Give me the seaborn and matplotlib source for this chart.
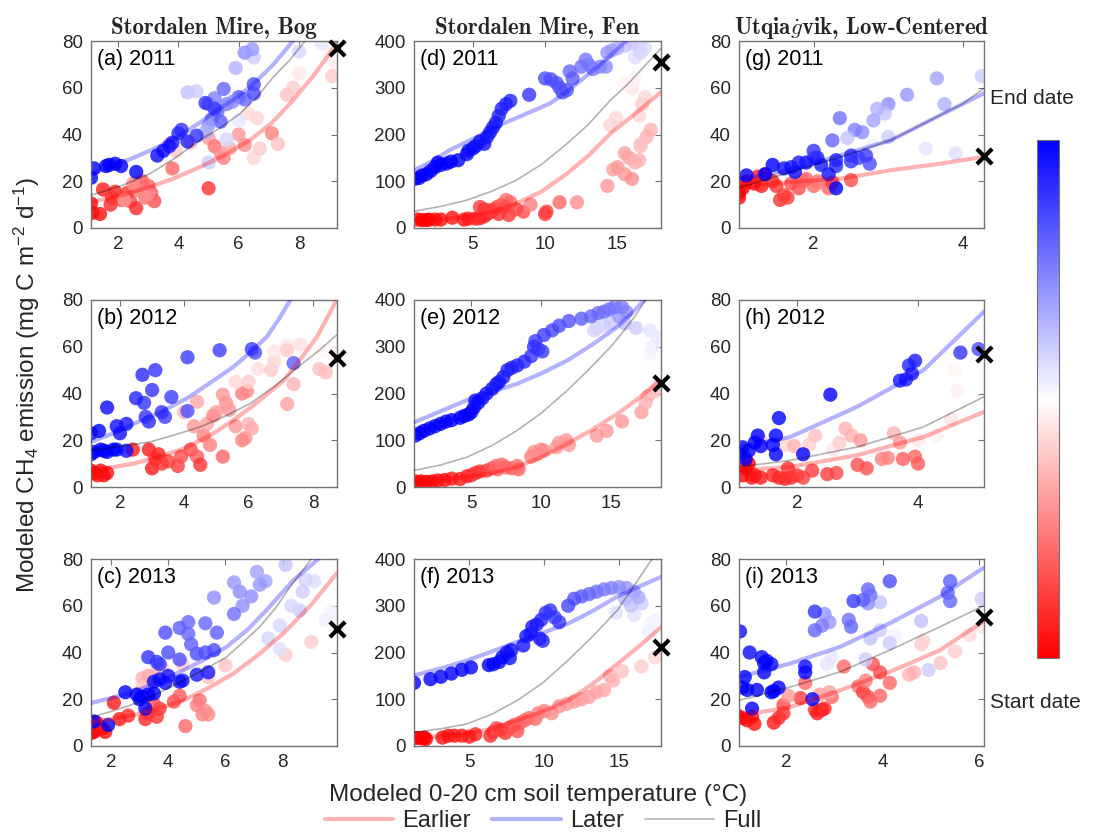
import matplotlib
matplotlib.use('Agg')
import matplotlib.pyplot as plt
import seaborn as sns
import pandas as pd
from matplotlib.colors import LinearSegmentedColormap, Normalize
from matplotlib.cm import ScalarMappable
from matplotlib.lines import Line2D

# ---- data: (soil temp, CH4 flux, date fraction 0=start 1=end)
bog2011 = [(1.1,10.5,.02),(1.15,6.5,0),(1.4,6,.03),(1.5,16.5,.05),(1.75,10,.08),(1.9,15.5,.06),(1.8,13,.1),(2.1,12,.12),
           (2.3,15,.1),(2.4,11.5,.14),(2.6,8.5,.08),(2.6,18,.15),(2.8,20,.18),(3.0,18,.2),(3.1,15,.18),(3.2,11.5,.15),
           (2.9,13,.22),(2.7,16,.25),(3.0,14.5,.28),(2.5,19,.28),(2.2,12,.3),(5.0,17,.1),(3.7,36,.35),(3.9,33,.4),
           (3.8,25.5,.2),(4.4,36.5,.35),(5.0,38.5,.3),(5.2,35,.22),(5.5,30,.25),(5.4,32,.28),(5.7,34,.33),(6.0,40,.3),
           (6.2,35.5,.28),(6.5,30,.42),(6.7,34,.4),(7.1,40.5,.25),(7.3,36,.38),(6.3,49,.43),(6.6,47,.42),(7.6,57,.38),
           (7.8,60,.4),(8.0,66,.45),(9.1,65,.4),(9.2,71,.46),(9.0,74,.48),
           (8.75,79,.55),(8.0,75.5,.58),(6.5,73,.6),(6.2,75,.72),(6.45,76.5,.7),(5.9,68.5,.65),(4.3,58,.62),(4.6,58.5,.6),
           (5.0,53,.78),(5.2,55.5,.75),(5.5,59.5,.8),(5.3,50,.8),(5.1,46.5,.78),(5.4,45.5,.82),(5.0,44,.7),(4.9,41,.66),
           (6.0,56,.82),(6.2,55,.8),(6.5,61.5,.85),(6.5,57.5,.85),(5.6,53,.75),(5.8,54,.72),(4.9,53.5,.9),(5.2,51,.88),
           (4.1,42,.9),(4.0,40.5,.92),(4.3,37,.94),(4.6,39.5,.9),(3.8,36.5,.95),(3.7,35,.96),(3.5,33,.97),(3.3,31,.98),
           (2.6,24,1),(2.1,26.5,1),(1.9,27.5,1),(1.7,27,1),(1.6,26.5,1),(1.2,25.5,1),(1.1,21.5,1),(5.0,28,.6),
           (5.6,38,.58),(6.0,46,.55)]
bog2012 = [(1.1,7,0),(1.2,6,0),(1.3,5,.02),(1.4,7,.02),(1.5,5,.03),(1.6,6,.03),(2.4,16,.05),(2.9,16,.05),(3.0,8,.05),
           (3.1,12,.08),(3.2,14,.07),(3.3,10,.1),(3.5,11,.12),(3.8,9,.12),(3.9,13,.15),(4.2,16,.15),(4.4,13,.18),
           (4.5,9.5,.1),(5.2,13,.2),(4.3,26,.3),(4.6,22,.25),(4.7,27,.32),(4.8,18,.25),(4.9,30.5,.25),(5.0,32,.3),
           (5.3,36,.28),(5.4,33,.3),(5.2,39.5,.3),(4.0,32,.35),(4.4,36.5,.33),(5.6,26,.3),(5.8,20,.25),(5.9,21,.28),
           (5.8,40,.25),(5.95,41,.27),(6.0,27,.35),(6.1,25,.33),(5.6,45,.42),(6.0,45,.4),(6.3,50.5,.44),(6.7,50,.4),
           (6.8,53.5,.42),(6.8,58,.45),(7.2,60.5,.45),(7.6,61,.44),(7.2,35.5,.32),(7.4,44,.35),(8.2,50.5,.38),
           (8.4,49,.37),(8.3,58,.48),(8.6,59,.49),(7.2,58.5,.4),
           (7.4,53,.82),(6.2,57.5,.85),(6.1,59,.88),(5.1,58.5,.88),(4.1,32.5,.85),(4.1,55.5,.88),(3.6,38.5,.88),
           (3.4,30,.88),(3.3,32,.9),(3.1,50,.9),(3.0,41.5,.9),(2.9,28,.92),(2.8,30,.9),(2.75,36,.9),(2.7,48,.92),
           (2.5,38,.93),(2.2,27,.96),(2.0,23,.97),(1.9,26,.97),(1.6,34,.98),(1.35,24,1),(1.1,23,1),
           (2.2,15.5,.98),(1.9,16,.98),(1.8,16,1),(1.6,15,1),(1.5,15.5,1),(1.4,16,1),(1.2,15,1),(1.1,14,1)]
bog2013 = [(1.3,5.5,0),(1.4,6,0),(1.5,7,.02),(1.6,8,.02),(1.7,7.5,.03),(1.8,6,.03),(1.5,10,.05),(2.1,18.5,.05),
           (2.3,11.5,.05),(2.6,13,.08),(3.2,11.5,.08),(3.3,14,.1),(3.6,12.5,.1),(3.7,16,.12),(3.5,18,.15),(4.2,19,.15),
           (4.4,21.5,.18),(4.6,8.5,.2),(5.1,19.5,.22),(5.0,17.5,.25),(5.2,13.5,.25),(5.4,13.5,.27),(5.3,15,.28),
           (3.1,29,.35),(3.3,30,.33),(3.6,31.5,.35),(3.1,25,.38),(3.8,33,.4),(4.5,35,.4),(6.0,34.5,.38),(8.1,39,.4),
           (9.0,44.5,.4),(5.4,29.5,.38),
           (9.7,57.5,.52),(9.5,54,.53),(9.1,70.5,.57),(8.8,71,.58),(8.7,66,.6),(8.6,58,.6),(8.3,60,.58),(8.1,77.5,.62),
           (7.9,51.5,.58),(7.9,41.5,.56),(7.5,46,.58),(7.4,70.5,.68),(7.2,69,.7),(7.1,74.5,.68),(6.9,64,.72),
           (6.6,60,.72),(6.5,66,.72),(6.3,70,.7),(6.3,56.5,.78),(5.6,63.5,.72),(5.7,48.5,.82),(5.6,41,.85),
           (5.3,52.5,.8),(5.3,40,.85),(5.0,39.5,.85),(4.8,43.5,.82),(4.7,53,.8),(4.7,48,.8),(4.4,50.5,.82),
           (4.4,37,.85),(4.0,40,.85),(3.9,48.5,.85),(3.7,35,.9),(3.6,36,.88),(3.3,38,.9),(5.4,31.5,.95),(5.0,30.5,.95),
           (4.5,28,.96),(4.4,27.5,.97),(4.0,30,.97),(3.9,27,.97),(3.7,28.5,.98),(3.5,27.5,.98),(3.2,16,1),
           (3.5,22.5,1),(3.3,22,1),(3.1,21,1),(3.0,20,1),(2.9,22,1),(2.5,23,1),(1.9,9,1),(1.4,10.5,1)]
fen2011 = [(1.2,18,0),(1.5,17,0),(1.8,17,0),(2.0,18,0),(2.4,18,.02),(2.8,18,.02),(3.6,22,.03),(4.4,18,.04),(4.7,20,.05),
           (5.2,20,.06),(5.5,21,.07),(5.8,25,.08),(6.0,30,.08),(6.3,35,.1),(6.5,40,.12),(6.7,45,.14),(7.0,50,.18),
           (7.3,60,.22),(7.6,55,.2),(7.2,45,.15),(5.5,45,.12),(5.8,40,.1),(6.2,38,.12),(6.8,30,.1),(7.5,28,.1),
           (8.0,40,.15),(8.5,35,.15),(9.0,50,.25),(10.0,30,.1),(10.1,35,.12),(11.0,55,.2),(12.2,55,.28),(14.3,90,.3),
           (14.7,125,.32),(15.0,130,.3),(15.5,115,.3),(16.0,105,.28),(15.5,160,.32),(15.8,150,.32),(16.2,140,.34),
           (16.5,145,.35),(16.6,175,.36),(17.0,195,.35),(17.3,210,.35),(16.6,180,.38),(14.5,220,.42),(14.9,235,.42),
           (16.5,240,.42),(16.7,265,.4),(16.9,280,.42),(16.0,300,.45),(16.2,320,.47),(16.5,340,.49),(15.5,310,.48),
           (16.2,365,.56),(16.6,375,.58),(16.9,385,.57),(16.5,390,.58),(16.0,395,.6),(15.5,390,.62),(15.0,385,.65),
           (14.6,380,.68),(14.3,375,.7),(14.2,345,.72),(13.8,345,.74),(13.3,340,.75),(13.0,350,.76),(12.8,360,.76),
           (12.5,345,.78),(11.7,335,.8),(11.9,320,.82),(11.5,295,.83),(11.2,290,.83),(11.0,300,.84),(10.8,310,.84),
           (10.4,318,.85),(10.0,320,.85),(8.9,285,.9),(7.6,272,.93),(7.3,265,.93),(7.0,255,.94),(6.8,240,.94),
           (6.6,225,.95),(6.4,215,.95),(6.2,205,.96),(6.0,195,.96),(5.8,180,.97),(5.5,185,.97),(5.2,175,.97),
           (5.0,170,.98),(4.7,165,.98),(4.6,158,.98),(4.0,145,1),(3.5,142,1),(3.2,138,1),(2.8,135,1),(2.6,140,1),
           (2.4,130,1),(2.1,122,1),(1.8,115,1),(1.5,112,1),(1.3,107,1),(1.0,105,1)]
fen2012 = [(1.0,12,0),(1.4,12,0),(1.8,11,0),(2.2,12,.01),(2.6,14,.02),(3.1,15,.03),(3.6,18,.04),(4.2,17,.05),
           (4.7,23,.07),(5.0,25,.08),(5.3,30,.1),(5.6,33,.1),(6.1,35,.12),(6.5,40,.15),(6.8,45,.2),(6.9,38,.18),
           (7.2,48,.22),(7.5,42,.2),(7.9,40,.2),(8.3,45,.22),(8.4,38,.2),(9.3,65,.25),(9.5,75,.28),(9.7,70,.27),
           (10.0,80,.28),(10.2,78,.27),(11.1,85,.3),(11.3,95,.3),(11.8,100,.3),(12.0,90,.3),(14.0,110,.3),
           (14.7,120,.3),(15.8,140,.3),(17.2,160,.32),(17.5,180,.35),(17.7,195,.35),(18.2,205,.38),(18.4,215,.4),
           (17.6,265,.5),(17.8,285,.52),(18.0,300,.53),(18.3,320,.54),(17.8,335,.55),(13.8,335,.58),(14.0,340,.58),
           (14.5,345,.58),(15.0,350,.6),(16.8,340,.6),(16.0,350,.62),(15.6,365,.7),(16.1,375,.72),(15.8,385,.75),
           (15.3,385,.76),(14.9,380,.77),(14.5,375,.78),(14.1,372,.78),(13.6,365,.8),(12.9,360,.82),(12.0,355,.84),
           (11.3,345,.85),(10.8,335,.86),(10.2,325,.88),(9.6,312,.88),(10.1,290,.88),(9.8,295,.89),(9.5,300,.9),
           (9.3,280,.9),(8.8,268,.92),(8.3,260,.93),(7.9,255,.94),(7.6,250,.94),(7.3,235,.95),(7.0,225,.95),
           (6.8,220,.96),(6.5,210,.96),(6.1,200,.97),(5.8,190,.97),(5.5,180,.98),(5.3,185,.98),(5.2,170,.98),
           (5.0,160,.99),(4.8,155,.99),(4.5,152,1),(4.2,148,1),(3.6,143,1),(3.2,140,1),(2.8,135,1),(2.4,130,1),
           (2.0,125,1),(1.6,120,1),(1.3,115,1),(1.0,110,1)]
fen2013 = [(1.3,17,0),(1.6,17,0),(1.9,16,0),(2.1,15,0),(2.0,18,0),(3.2,18,.02),(3.6,22,.03),(4.0,22,.04),(4.5,22,.05),
           (5.0,20,.05),(5.4,25,.06),(6.4,22,.08),(6.6,30,.1),(6.8,38,.15),(7.1,35,.12),(7.4,28,.1),(7.7,40,.15),
           (8.0,45,.18),(8.4,50,.2),(8.2,32,.15),(8.7,55,.2),(9.0,60,.22),(9.4,58,.22),(9.6,70,.25),(10.0,75,.25),
           (10.5,70,.27),(11.0,85,.28),(11.5,90,.3),(12.0,95,.3),(12.5,100,.3),(13.0,105,.32),(13.5,115,.32),
           (14.0,120,.33),(14.4,150,.35),(14.6,140,.35),(15.2,160,.38),(16.5,170,.4),(17.4,190,.42),
           (17.5,270,.52),(17.0,245,.53),(17.2,265,.52),(16.0,280,.56),(14.8,285,.56),(16.5,305,.6),(15.8,300,.62),
           (15.4,315,.64),(16.3,318,.66),(16.0,330,.68),(15.5,338,.7),(15.0,340,.72),(14.5,338,.74),(14.0,335,.76),
           (13.5,330,.78),(13.0,325,.8),(12.5,320,.82),(12.0,315,.84),(11.6,300,.86),(11.0,265,.88),(10.7,275,.88),
           (10.4,290,.9),(10.1,285,.9),(9.8,270,.92),(9.9,225,.93),(9.7,230,.93),(9.5,260,.94),(9.2,255,.95),
           (9.1,240,.95),(8.8,235,.96),(8.6,215,.96),(7.7,188,.97),(7.8,205,.97),(7.5,200,.98),(7.2,190,.98),
           (7.0,180,.99),(6.6,175,.99),(6.3,173,1),(5.1,168,1),(4.5,163,1),(3.8,155,1),(3.1,148,1),(2.4,143,1),
           (1.3,135,1)]
utq2011 = [(1.0,15,0),(1.0,13,0),(1.05,17,0),(1.1,20,.02),(1.2,19,.03),(1.3,18,.04),(1.25,22,.05),(1.35,23,.05),
           (1.45,20,.08),(1.5,18,.1),(1.55,12,.1),(1.6,14,.12),(1.65,13,.12),(1.7,19,.15),(1.8,17,.15),(1.85,20,.18),
           (1.9,21,.2),(2.0,18,.2),(2.05,20,.22),(2.2,17,.2),(2.1,19.5,.25),(2.25,19.5,.1),(2.5,20.5,.15),
           (2.7,32,.5),(2.8,35,.52),(3.5,34,.55),(3.9,32,.56),(4.25,65,.6),(3.75,53,.65),(3.65,64,.68),
           (3.25,57,.7),(3.0,53,.72),(3.0,39,.6),(2.95,49,.62),(2.85,51,.65),(2.8,46,.68),(2.65,41,.72),(2.55,42,.75),
           (2.45,38.5,.62),(2.35,47,.78),(2.25,37.5,.8),(2.0,30,.85),(2.75,27.5,.85),(2.7,31,.88),(2.6,30,.88),
           (2.5,28.5,.9),(2.5,31,.9),(2.3,26.5,.92),(2.3,29,.93),(2.3,17,1),(2.2,23,.97),(2.1,27,.95),(2.05,30,.95),
           (2.0,33,.9),(1.9,28,.97),(1.8,28,.95),(1.75,24,.98),(1.7,26,.96),(1.6,25.5,.97),(1.45,27,1),(1.35,23,1),
           (1.1,22.5,1)]
utq2012 = [(1.1,5,0),(1.15,8,0),(1.2,10,0),(1.25,4,.02),(1.3,5,.03),(1.4,4,.05),(1.6,5,.06),(1.7,4,.07),(1.8,3.5,.08),
           (1.9,4,.08),(1.85,8,.1),(2.0,5,.1),(2.1,4,.12),(2.25,7,.12),(2.5,5.5,.12),(2.65,6,.14),(3.0,9.5,.15),
           (3.15,8,.15),(3.4,12,.25),(3.5,12.5,.25),(3.75,12,.18),(3.95,13,.2),(4.0,10,.18),(1.4,20,.4),
           (1.8,18,.42),(1.95,17.5,.35),(2.2,18,.4),(2.3,22,.38),(2.6,16,.45),(2.7,19,.4),(2.8,25,.35),(2.9,22,.35),
           (3.05,20,.3),(3.6,23,.35),(3.7,19,.3),(4.0,20,.45),(4.3,22,.47),(4.55,29,.45),(4.6,50,.48),(4.65,41,.47),
           (5.0,59,.85),(4.7,57.5,.9),(3.95,54,.95),(3.85,52,.93),(3.9,48.5,.95),(3.8,46,.95),(3.7,45.5,.96),
           (2.55,39.5,1),(2.1,14,1),(1.7,29.5,1),(1.65,22,1),(1.65,14,1),(1.6,18,1),(1.4,17.5,1),(1.35,22,1),
           (1.3,19,1),(1.2,15.5,1),(1.15,12,1),(1.1,17,1),(1.05,14,1)]
utq2013 = [(1.0,13,0),(1.1,12,0),(1.2,11,.02),(1.3,12.5,.03),(1.35,9.5,.03),(1.75,10,.05),(1.85,12,.08),
           (1.95,14,.1),(1.95,17.5,.15),(2.3,20.5,.12),(2.4,27,.2),(2.6,15.5,.1),(2.65,14,.05),(2.75,15.5,.05),
           (2.8,16,.08),(2.95,21,.2),(3.2,34,.2),(3.5,25.5,.22),(3.6,23,.12),(3.65,28,.25),(3.7,21,.15),(3.75,19,.2),
           (3.8,35,.15),(3.95,21.5,.2),(3.95,31.5,.15),(4.15,27,.2),(2.05,21.5,.3),(2.7,22,.3),(2.9,23,.32),
           (4.55,30.5,.35),(4.65,31.5,.35),(4.8,43.5,.4),(4.85,45,.42),(5.2,35.5,.38),(5.5,40.5,.4),(5.8,47.5,.43),
           (6.05,51,.45),
           (6.05,63,.6),(4.25,47,.52),(4.95,32.5,.6),(4.8,53.5,.62),(4.15,44,.6),(3.95,61.5,.62),(3.95,49.5,.6),
           (3.75,46,.62),(3.65,37,.6),(2.95,38,.55),(2.85,35,.55),(5.35,65.5,.8),(5.4,62,.8),(5.4,70.5,.82),
           (4.15,70.5,.85),(3.7,67,.8),(3.75,64.5,.78),(3.7,61,.72),(3.6,62.5,.82),(3.4,62,.88),(3.3,54,.78),
           (3.35,51,.8),(2.9,53,.7),(2.8,56.5,.7),(2.75,51.5,.75),(2.6,49.5,.8),(2.6,57.5,.9),(2.55,20,1),
           (2.4,31.5,1),(2.4,34,.98),(1.85,25,1),(1.75,23.5,1),(1.7,23,1),(1.7,35,.98),(1.6,36.5,.98),(1.55,31.5,1),
           (1.55,35.5,1),(1.5,38,.98),(1.4,24,1),(1.3,16,1),(1.25,40,.98),(1.2,24,1),(1.15,29.5,1),(1.1,25,1),
           (1.05,49,.98)]

# fitted curves (temp, flux)
bog2011_early = ([1.1, 2.1, 3.05, 3.9, 4.7, 5.5, 6.37, 7.1, 7.8, 8.5, 9.25], [11.1, 14, 17.5, 21.5, 26, 31, 37.5, 45, 54.6, 65.5, 78.9])
bog2011_later = ([1.1, 1.8, 2.5, 3.3, 4.05, 4.7, 5.27, 5.9, 6.5, 7.15, 7.8], [23.2, 26.5, 30, 34.5, 39.6, 45, 50.3, 55.5, 61.7, 70, 80])
bog2011_full = ([1.1, 2.1, 3.05, 3.9, 4.7, 5.4, 6.04, 6.6, 7.15, 7.7, 8.2], [14, 18, 23.2, 30, 37.5, 43, 48.9, 56, 64.6, 72, 80])
bog2012_early = ([1.1, 1.8, 2.42, 3.2, 3.98, 4.8, 5.53, 6.3, 7.1, 7.6, 8.13, 8.74], [7.4, 8.5, 10, 12.9, 16.4, 22, 28.6, 36.5, 45.7, 54.5, 64.3, 80])
bog2012_later = ([1.1, 1.8, 2.42, 3.25, 4.08, 4.8, 5.53, 6.05, 6.57, 6.95, 7.3], [19.3, 23, 27, 32, 37.9, 44.5, 51.4, 57.5, 64.3, 72, 80])
bog2012_full = ([1.1, 2.0, 2.94, 3.7, 4.5, 5.3, 6.05, 6.8, 7.6, 8.2, 8.74], [15.7, 17.3, 19.3, 22.3, 25.7, 30.5, 35.7, 43, 52, 58.5, 65])
bog2013_early = ([1.3, 2.15, 3.0, 3.75, 4.53, 5.4, 6.28, 7.15, 8.03, 9.0, 9.9], [10.2, 11.8, 13.8, 16.4, 19.5, 24.8, 31, 39, 48.2, 60.5, 74])
bog2013_later = ([1.3, 2.0, 2.78, 3.65, 4.53, 5.3, 6.04, 6.75, 7.44, 8.38, 9.25], [18.4, 20.5, 23, 27.5, 32.4, 37.2, 42.4, 49.5, 58.2, 71, 80])
bog2013_full = ([1.3, 2.15, 3.0, 3.75, 4.53, 5.3, 6.04, 6.6, 7.2, 7.75, 8.26, 9.0], [12.3, 15.3, 18.8, 23.2, 28.1, 33, 38.1, 44.2, 51, 59, 68, 80])
fen2011_early = ([0.95, 2.75, 4.54, 6.27, 8.0, 9.75, 11.5, 13.0, 14.5, 16.25, 18], [16.4, 19, 23.5, 34, 52, 78, 116, 155, 202, 245, 291])
fen2011_later = ([0.95, 2.2, 3.38, 5.1, 6.85, 8.6, 10.3, 11.45, 12.6, 13.75, 14.9, 15.6], [123, 143, 166, 192, 220, 243, 266, 290, 319, 348, 380, 400])
fen2011_full = ([0.95, 2.75, 4.54, 6.27, 8.0, 9.75, 11.5, 13.0, 14.5, 15.65, 16.8, 18], [35.7, 46, 59, 78, 102, 136, 180, 222, 273, 306, 344, 384])
fen2012_early = ([0.96, 2.8, 4.71, 6.5, 8.3, 10.1, 11.9, 13.7, 15.5, 17.05, 18.6], [14.3, 17, 21.4, 30, 43, 65, 93, 123, 157, 191, 229])
fen2012_later = ([0.96, 2.8, 4.71, 6.5, 8.3, 10.1, 11.9, 13.7, 15.5, 16.45, 17.4], [139, 162, 186, 203, 221, 244, 271, 305, 343, 370, 400])
fen2012_full = ([0.96, 2.8, 4.71, 6.5, 8.3, 10.1, 11.9, 13.45, 15.0, 15.85, 16.7, 17.5], [35.7, 47, 64, 89, 121, 160, 207, 252, 300, 331, 364, 400])
fen2013_early = ([1.32, 3.1, 4.84, 6.5, 8.2, 9.9, 11.6, 13.25, 14.9, 16.4, 17.9], [18.6, 21, 25.8, 37, 54.5, 74, 97.5, 133, 176, 215, 257])
fen2013_later = ([1.32, 3.1, 4.84, 6.5, 8.2, 9.9, 11.6, 13.25, 14.9, 16.4, 17.9], [151, 166, 183, 202, 223, 242, 262, 289, 320, 342, 363])
fen2013_full = ([1.32, 3.1, 4.84, 6.5, 8.2, 9.9, 11.6, 13.25, 14.9, 16.05, 17.2], [29.4, 37, 47.3, 68, 97.5, 135, 183.5, 235, 291, 345, 400])
utq2011_early = ([1.02, 1.7, 2.36, 3.03, 3.69, 4.27], [17.5, 19.7, 21.1, 24.7, 27.5, 30.4])
utq2011_later = ([1.02, 1.7, 2.36, 3.03, 3.69, 4.27], [21.1, 24.7, 31.1, 37.5, 48.2, 57.5])
utq2011_full = ([1.02, 1.7, 2.36, 3.03, 4.0, 4.27], [17.5, 24, 30.4, 37.5, 53.2, 59.6])
utq2012_early = ([1.04, 1.89, 2.99, 4.09, 5.09], [7.1, 8.6, 13.6, 21.4, 32.1])
utq2012_later = ([1.04, 1.89, 2.99, 4.09, 5.09], [17.1, 21.4, 34.3, 50, 75])
utq2012_full = ([1.04, 1.89, 2.99, 4.09, 5.09], [8.6, 11.4, 17.1, 25.7, 38.6])
utq2013_early = ([1.03, 2.09, 3.12, 4.15, 5.19, 6.08], [13, 16.6, 23.8, 31.7, 41, 53.2])
utq2013_later = ([1.03, 2.09, 3.12, 4.15, 5.19, 6.08], [29.5, 35.3, 42.4, 52.5, 63.9, 76.1])
utq2013_full = ([1.03, 2.09, 3.12, 4.15, 5.19, 6.08], [19.5, 25.2, 31.7, 41, 51, 59.9])

# end-of-season marker (x) per panel
end_temp = [9.26, 8.75, 9.9, 18.0, 18.6, 17.8, 4.28, 5.09, 6.1]
end_flux = [77, 55, 50, 355, 222, 212, 31, 57, 55]

titles = ['Stordalen Mire, Bog', 'Stordalen Mire, Fen', r'Utqia$\dot{g}$vik, Low-Centered']
labels = ['(a) 2011', '(b) 2012', '(c) 2013', '(d) 2011', '(e) 2012', '(f) 2013', '(g) 2011', '(h) 2012', '(i) 2013']

sns.set_style('white')
plt.rcParams['font.family'] = ['Liberation Sans', 'DejaVu Sans']
plt.rcParams['mathtext.fontset'] = 'custom'
plt.rcParams['mathtext.rm'] = 'Liberation Sans'
plt.rcParams['mathtext.it'] = 'Liberation Sans:italic'

W, H = 1094, 833
fig = plt.figure(figsize=(W / 100, H / 100), dpi=100)
cmap = LinearSegmentedColormap.from_list('rwb', ['#ff0000', '#ffffff', '#0000ff'])

panels = [
    (bog2011, bog2011_early, bog2011_later, bog2011_full, (1.1, 9.26), 80, [2, 4, 6, 8]),
    (bog2012, bog2012_early, bog2012_later, bog2012_full, (1.1, 8.75), 80, [2, 4, 6, 8]),
    (bog2013, bog2013_early, bog2013_later, bog2013_full, (1.3, 9.9), 80, [2, 4, 6, 8]),
    (fen2011, fen2011_early, fen2011_later, fen2011_full, (0.95, 18.0), 400, [5, 10, 15]),
    (fen2012, fen2012_early, fen2012_later, fen2012_full, (0.9, 18.6), 400, [5, 10, 15]),
    (fen2013, fen2013_early, fen2013_later, fen2013_full, (1.3, 17.8), 400, [5, 10, 15]),
    (utq2011, utq2011_early, utq2011_later, utq2011_full, (1.0, 4.28), 80, [2, 4]),
    (utq2012, utq2012_early, utq2012_later, utq2012_full, (1.04, 5.09), 80, [2, 4]),
    (utq2013, utq2013_early, utq2013_later, utq2013_full, (1.03, 6.1), 80, [2, 4, 6]),
]

col_left = [91, 414, 739]
col_w = [246, 247, 245]
row_top = [41, 300, 559]
row_h = 187

for i, (pts, early, later, full, xlim, ymax, xt) in enumerate(panels):
    col, row = i // 3, i % 3
    ax = fig.add_axes([col_left[col] / W, 1 - (row_top[row] + row_h) / H, col_w[col] / W, row_h / H])
    df = pd.DataFrame(pts, columns=['temp', 'flux', 'date'])
    sns.scatterplot(data=df, x='temp', y='flux', hue='date', palette=cmap, hue_norm=(0, 1),
                    s=105, alpha=0.8, edgecolor='none', legend=False, ax=ax, zorder=2)
    sns.lineplot(x=early[0], y=early[1], color='red', alpha=0.3, lw=3, sort=False, estimator=None, ax=ax, zorder=3)
    sns.lineplot(x=later[0], y=later[1], color='blue', alpha=0.3, lw=3, sort=False, estimator=None, ax=ax, zorder=3)
    sns.lineplot(x=full[0], y=full[1], color='black', alpha=0.3, lw=1.2, sort=False, estimator=None, ax=ax, zorder=3)
    ax.scatter([end_temp[i]], [end_flux[i]], marker='x', s=120, linewidths=3, color='black', clip_on=False, zorder=6)
    ax.set_xlim(xlim)
    ax.set_ylim(0, ymax)
    ax.set_xticks(xt)
    ax.set_yticks([0, ymax / 4, ymax / 2, 3 * ymax / 4, ymax])
    ax.set_yticklabels([str(int(v)) for v in [0, ymax / 4, ymax / 2, 3 * ymax / 4, ymax]])
    ax.set_xlabel('')
    ax.set_ylabel('')
    ax.tick_params(direction='in', top=True, right=True, length=4, width=0.8, color='0.45',
                   labelcolor='0.15', labelsize=13.5, pad=6)
    for sp in ax.spines.values():
        sp.set_color('0.45')
        sp.set_linewidth(1.0)
    ax.text(0.025, 0.955, labels[i], transform=ax.transAxes, ha='left', va='top', fontsize=15.5, color='black')
    if row == 0:
        ax.set_title(titles[col], fontfamily='cmb10', math_fontfamily='cm', fontsize=16.5, pad=5)

# colour bar for the date
cax = fig.add_axes([1037 / W, 1 - 658 / H, 22 / W, 518 / H])
cb = fig.colorbar(ScalarMappable(norm=Normalize(0, 1), cmap=cmap), cax=cax)
cb.set_ticks([])
cb.outline.set_edgecolor('0.45')
fig.text(990 / W, 1 - 99 / H, 'End date', fontsize=15, va='center', ha='left')
fig.text(990 / W, 1 - 703 / H, 'Start date', fontsize=15, va='center', ha='left')

fig.text(538 / W, 1 - 795 / H, 'Modeled 0-20 cm soil temperature (°C)', fontsize=17.5, ha='center', va='center', color='0.15')
fig.text(27 / W, 1 - 385 / H, r'Modeled CH$_4$ emission (mg C m$^{-2}$ d$^{-1}$)', fontsize=17.5, rotation=90,
         ha='center', va='center', color='0.15')

handles = [Line2D([], [], color='red', alpha=0.3, lw=3),
           Line2D([], [], color='blue', alpha=0.3, lw=3),
           Line2D([], [], color='black', alpha=0.3, lw=1.2)]
fig.legend(handles, ['Earlier', 'Later', 'Full'], loc='center', bbox_to_anchor=(543 / W, 1 - 821 / H), ncol=3,
           frameon=False, fontsize=17, handlelength=2.9, handletextpad=0.4, columnspacing=0.9,
           borderpad=0, borderaxespad=0)

fig.savefig('out.png', dpi=100)
